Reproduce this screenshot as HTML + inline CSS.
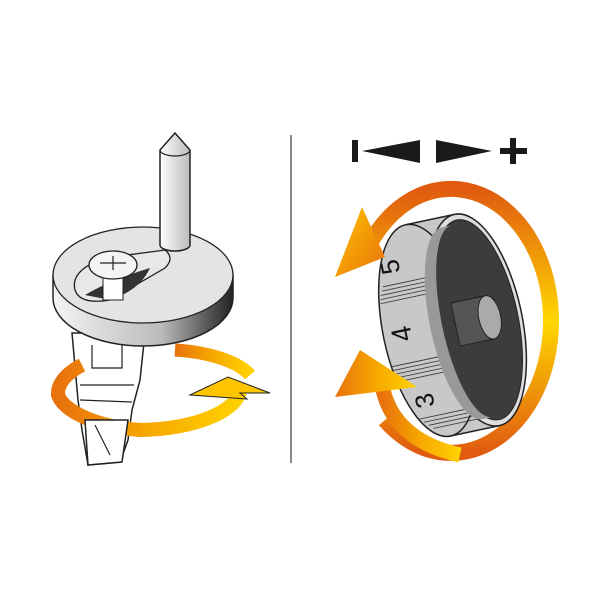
<!DOCTYPE html>
<html><head><meta charset="utf-8"><style>html,body{margin:0;padding:0;background:#fff}svg{display:block}</style></head>
<body>
<svg width="600" height="600" viewBox="0 0 600 600" xmlns="http://www.w3.org/2000/svg">
<defs>
<linearGradient id="og" x1="0" y1="0" x2="1" y2="0">
<stop offset="0" stop-color="#e8720c"/><stop offset="0.5" stop-color="#f7a800"/><stop offset="1" stop-color="#ffd200"/></linearGradient>
<linearGradient id="og2" x1="0" y1="0" x2="0" y2="1">
<stop offset="0" stop-color="#e05a10"/><stop offset="0.5" stop-color="#ffd800"/><stop offset="1" stop-color="#e05a10"/></linearGradient>
<linearGradient id="og3" x1="0" y1="0" x2="1" y2="1">
<stop offset="0" stop-color="#ffc400"/><stop offset="1" stop-color="#e8720c"/></linearGradient>
<linearGradient id="disc" x1="0" y1="0" x2="1" y2="0">
<stop offset="0" stop-color="#f4f4f4"/><stop offset="0.6" stop-color="#bbb"/><stop offset="1" stop-color="#222"/></linearGradient>
<linearGradient id="pin" x1="0" y1="0" x2="1" y2="0">
<stop offset="0" stop-color="#fff"/><stop offset="1" stop-color="#bbb"/></linearGradient>
</defs>
<line x1="291" y1="135" x2="291" y2="463" stroke="#888" stroke-width="2"/>

<!-- LEFT -->
<path d="M175,350 A95,38 0 0 1 250,375" fill="none" stroke="url(#og)" stroke-width="13"/>
<path d="M72,333 L145,333 L140,380 L132,410 L128,440 L120,462 L88,465 L82,430 L78,400 Z" fill="#fff" stroke="#222" stroke-width="1.5"/>
<path d="M92,345 L92,368 L122,368 L122,345 M80,385 L134,385 M80,400 L132,402" fill="none" stroke="#222" stroke-width="1.2"/>
<path d="M82,365 A105,45 0 0 0 58,395 A105,42 0 0 0 140,430 A105,42 0 0 0 240,390" fill="none" stroke="url(#og)" stroke-width="14"/>
<polygon points="190,395 228,377 270,393 240,393 247,399" fill="#ffc400" stroke="#222" stroke-width="1"/>
<path d="M85,420 L128,420 L122,462 L88,465 Z" fill="#fff" stroke="#222" stroke-width="1.5"/>
<path d="M95,425 L110,455" stroke="#222" stroke-width="1.2"/>
<path d="M53,275 L53,298 A90,48 0 0 0 233,298 L233,275 Z" fill="url(#disc)" stroke="#222" stroke-width="1.5"/>
<ellipse cx="143" cy="275" rx="90" ry="48" fill="#e4e4e4" stroke="#222" stroke-width="1.3"/>
<path d="M75,290 Q70,270 105,258 L165,250 Q175,258 165,268 L110,300 Q80,305 75,290 Z" fill="#e8e8e8" stroke="#222" stroke-width="1.3"/>
<path d="M85,295 Q110,280 150,268 Q140,290 110,300 Z" fill="#333"/>
<rect x="103" y="265" width="20" height="35" fill="#fff" stroke="#222"/>
<ellipse cx="113" cy="265" rx="24" ry="14" fill="#f4f4f4" stroke="#222" stroke-width="1.3"/>
<path d="M100,263 L126,263 M113,256 L113,270" stroke="#222" stroke-width="1.2"/>
<path d="M160,150 L175,133 L190,150 L190,245 A15,6 0 0 1 160,245 Z" fill="url(#pin)" stroke="#222" stroke-width="1.5"/>
<path d="M160,150 A15,6 0 0 0 190,150" fill="none" stroke="#222" stroke-width="1.2"/>

<!-- RIGHT: symbols -->
<rect x="352" y="140" width="6" height="22" fill="#1a1a1a"/>
<polygon points="362,151 420,140 420,163" fill="#1a1a1a"/>
<polygon points="436,140 436,163 492,151" fill="#1a1a1a"/>
<rect x="500" y="148" width="27" height="6" fill="#1a1a1a"/>
<rect x="510" y="138" width="6" height="26" fill="#1a1a1a"/>

<path d="M372,240 A100,132 0 1 1 385,420" fill="none" stroke="url(#og2)" stroke-width="16"/>
<g transform="rotate(-12 477 320)">
<path d="M427,212 L477,212 L477,428 L427,428 Z" fill="#c8c8c8"/>
<ellipse cx="427" cy="320" rx="45" ry="108" fill="#c8c8c8" stroke="#222" stroke-width="1.5"/>
<path d="M427,212 L477,212 M427,428 L477,428" stroke="#222" stroke-width="1.5"/>
<g stroke="#333" stroke-width="0.8">
<line x1="392" y1="268" x2="460" y2="268"/><line x1="390" y1="272" x2="460" y2="272"/><line x1="388" y1="276" x2="460" y2="276"/><line x1="387" y1="280" x2="460" y2="280"/><line x1="386" y1="284" x2="460" y2="284"/>
<line x1="383" y1="348" x2="460" y2="348"/><line x1="384" y1="352" x2="460" y2="352"/><line x1="385" y1="356" x2="460" y2="356"/><line x1="386" y1="360" x2="460" y2="360"/><line x1="387" y1="364" x2="460" y2="364"/>
<line x1="400" y1="405" x2="460" y2="405"/><line x1="404" y1="409" x2="460" y2="409"/><line x1="408" y1="413" x2="460" y2="413"/><line x1="412" y1="417" x2="460" y2="417"/>
</g>
<text x="412" y="250" font-family="Liberation Sans, sans-serif" font-size="26" fill="#111" transform="rotate(-90 412 250)" text-anchor="middle">5</text>
<text x="410" y="318" font-family="Liberation Sans, sans-serif" font-size="28" fill="#111" transform="rotate(-90 410 318)" text-anchor="middle">4</text>
<text x="418" y="388" font-family="Liberation Sans, sans-serif" font-size="26" fill="#111" transform="rotate(-90 418 388)" text-anchor="middle">3</text>
<ellipse cx="477" cy="320" rx="45" ry="108" fill="#ddd" stroke="#222" stroke-width="1.5"/>
<ellipse cx="478" cy="320" rx="40" ry="102" fill="#3c3c3c" stroke="#222" stroke-width="1"/>
<path d="M462,222 A32,97 0 0 0 462,418 L472,418 A30,97 0 0 1 472,222 Z" fill="#999"/>
<rect x="455" y="298" width="35" height="44" fill="#555" stroke="#222"/>
<ellipse cx="490" cy="320" rx="11" ry="22" fill="#aaa" stroke="#222"/>
</g>
<polygon points="335,277 362,207 385,257" fill="url(#og3)"/>
<path d="M382,385 Q392,440 460,455" fill="none" stroke="url(#og)" stroke-width="15"/>
<polygon points="335,397 360,350 417,387" fill="url(#og)"/>
</svg>
</body></html>
